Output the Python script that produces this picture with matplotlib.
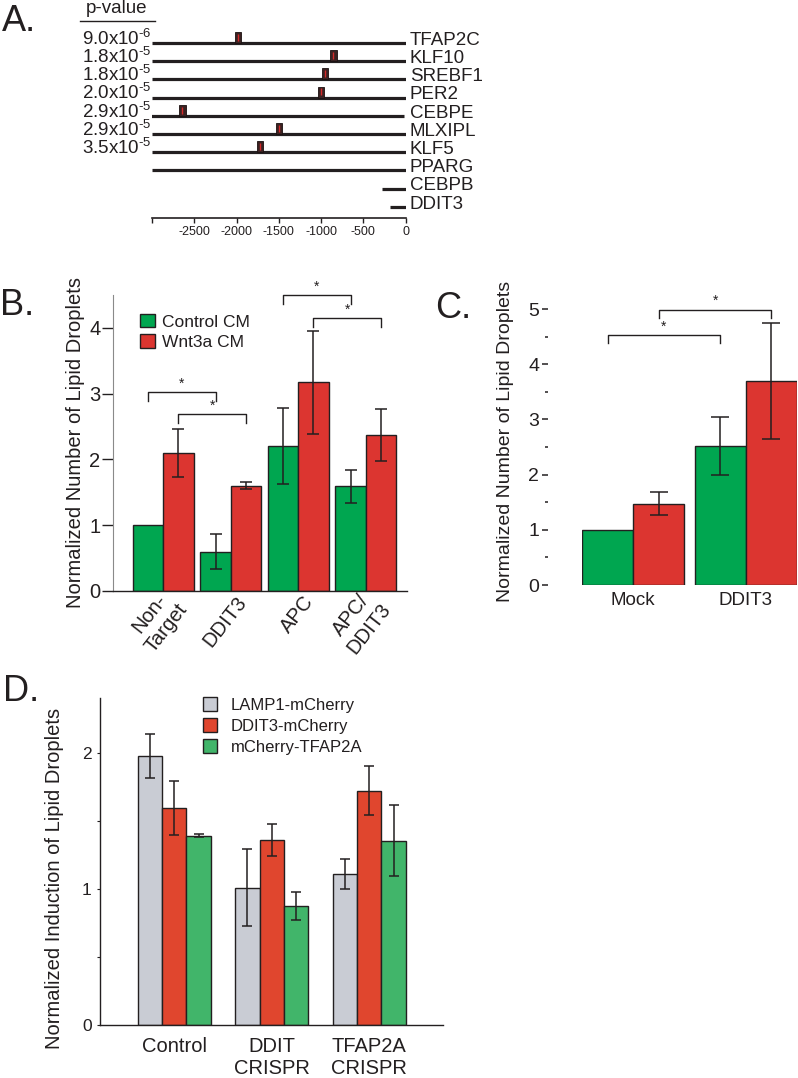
import numpy as np
import matplotlib.pyplot as plt
from matplotlib.patches import Patch
from matplotlib.transforms import ScaledTranslation

plt.rcParams['font.family'] = ['Liberation Sans', 'DejaVu Sans']
plt.rcParams['mathtext.fontset'] = 'custom'
plt.rcParams['mathtext.rm'] = 'Liberation Sans'
plt.rcParams['mathtext.default'] = 'regular'
plt.rcParams['axes.unicode_minus'] = False

INK = '#231f20'
W, H = 798, 1078

# ---- panel A: promoter motif sites ----
GENES = ['TFAP2C', 'KLF10', 'SREBF1', 'PER2', 'CEBPE', 'MLXIPL', 'KLF5', 'PPARG', 'CEBPB', 'DDIT3']
P_VALUES = ['9.0x10$^{\u20106}$', '1.8x10$^{\u20105}$', '1.8x10$^{\u20105}$', '2.0x10$^{\u20105}$',
            '2.9x10$^{\u20105}$', '2.9x10$^{\u20105}$', '3.5x10$^{\u20105}$', '', '', '']
PROMOTER_START = [-3000, -3000, -3000, -3000, -3010, -3000, -3000, -3000, -280, -190]
PROMOTER_END = [0, 0, 0, 0, -20, 0, 0, 0, 0, 0]
SITE_GENE = [0, 1, 2, 3, 4, 5, 6]
SITE_POS = [-1980, -855, -955, -1005, -2640, -1500, -1720]
A_TICKS = [-3000, -2500, -2000, -1500, -1000, -500, 0]
A_TICK_LABELS = ['', '-2500', '-2000', '-1500', '-1000', '-500', '0']

# ---- panel B ----
B_GROUPS = ['Non-\nTarget', 'DDIT3', 'APC', 'APC/\nDDIT3']
B_CONTROL = [1.0, 0.6, 2.2, 1.59]
B_CONTROL_ERR = [0.0, 0.26, 0.58, 0.25]
B_WNT = [2.1, 1.6, 3.17, 2.37]
B_WNT_ERR = [0.36, 0.05, 0.78, 0.39]
B_SERIES = ['Control CM', 'Wnt3a CM']
# (series, group from, group to, height)
B_SIG = [(0, 0, 1, 3.02), (1, 0, 1, 2.69), (0, 2, 3, 4.5), (1, 2, 3, 4.15)]

# ---- panel C ----
C_GROUPS = ['Mock', 'DDIT3']
C_CONTROL = [1.0, 2.52]
C_CONTROL_ERR = [0.0, 0.52]
C_WNT = [1.47, 3.69]
C_WNT_ERR = [0.21, 1.05]
C_SIG = [(0, 0, 1, 4.53), (1, 0, 1, 4.99)]

# ---- panel D ----
D_GROUPS = ['Control', 'DDIT\nCRISPR', 'TFAP2A\nCRISPR']
D_SERIES = ['LAMP1-mCherry', 'DDIT3-mCherry', 'mCherry-TFAP2A']
D_LAMP1 = [1.975, 1.01, 1.11]
D_LAMP1_ERR = [0.16, 0.28, 0.11]
D_DDIT3 = [1.595, 1.36, 1.72]
D_DDIT3_ERR = [0.2, 0.12, 0.18]
D_TFAP2A = [1.39, 0.874, 1.353]
D_TFAP2A_ERR = [0.01, 0.1, 0.26]

GREEN = '#00a650'
RED = '#dc3530'
D_COLORS = ['#c9ccd4', '#e0462e', '#41b56a']


def px_axes(fig, left, top, right, bottom):
    return fig.add_axes([left / W, 1 - bottom / H, (right - left) / W, (bottom - top) / H])


def draw_bars(ax, centers, values, errs, width, color, capsize, elw):
    ax.bar(centers, values, width, color=color, edgecolor=INK, linewidth=1.0, zorder=2)
    errs = np.asarray(errs)
    keep = errs > 0
    ax.errorbar(np.asarray(centers)[keep], np.asarray(values)[keep], yerr=errs[keep],
                fmt='none', ecolor=INK, elinewidth=elw, capsize=capsize, capthick=elw, zorder=3)


def bracket(ax, x0, x1, y, leg):
    ax.plot([x0, x0, x1, x1], [y - leg, y, y, y - leg], color=INK, lw=1.0, clip_on=False)
    ax.annotate('*', ((x0 + x1) / 2, y), xytext=(0, 1), textcoords='offset points',
                ha='center', va='bottom', fontsize=10, color=INK, annotation_clip=False)


fig = plt.figure(figsize=(W / 100, H / 100), dpi=100)

# ================= A =================
axA = px_axes(fig, 152, 15.7, 405.7, 218)
rows = -np.arange(len(GENES))
axA.hlines(rows, PROMOTER_START, PROMOTER_END, color=INK, lw=2.3)
site_rows = rows[SITE_GENE]
axA.bar(SITE_POS, 0.6, width=75, bottom=site_rows, color='#3a2222', edgecolor='#1a1010',
        linewidth=0.6, zorder=3)
axA.vlines(SITE_POS, site_rows + 0.12, site_rows + 0.5, color='#d42a2a', lw=1.0, zorder=4)
for r, g, p in zip(rows, GENES, P_VALUES):
    axA.text(50, r - 0.1, g, ha='left', va='baseline', fontsize=13.5, color=INK, clip_on=False)
    if p:
        axA.text(-3010, r - 0.1, p, ha='right', va='baseline', fontsize=13.5, color=INK, clip_on=False)
axA.text(-3414, 1.92, 'p-value', ha='center', va='center', fontsize=13.5, color=INK, clip_on=False)
axA.plot([-3852, -2964], [1.23, 1.23], color=INK, lw=1.0, clip_on=False)
axA.set_xlim(-3000, 0)
axA.set_ylim(-9.62, 1.5)
axA.set_xticks(A_TICKS, A_TICK_LABELS, fontsize=9, color=INK)
axA.set_yticks([])
axA.tick_params(axis='x', direction='out', length=3.6, width=1.0, pad=2.5, color=INK)
for s in ['left', 'right', 'top']:
    axA.spines[s].set_visible(False)
axA.spines['bottom'].set_linewidth(1.2)
axA.spines['bottom'].set_color(INK)

# ================= B =================
axB = px_axes(fig, 113, 295, 406.7, 591)
xb = np.arange(len(B_GROUPS))
bw = 0.45
draw_bars(axB, xb - bw / 2, B_CONTROL, B_CONTROL_ERR, bw, GREEN, 4.3, 1.1)
draw_bars(axB, xb + bw / 2, B_WNT, B_WNT_ERR, bw, RED, 4.3, 1.1)
for s, g0, g1, h in B_SIG:
    off = -bw / 2 if s == 0 else bw / 2
    bracket(axB, g0 + off, g1 + off, h, 0.13)
axB.set_xlim(-0.745, 3.606)
axB.set_ylim(0, 4.5)
axB.set_yticks([0, 1, 2, 3, 4])
axB.tick_params(axis='y', length=8, width=1.0, pad=1, labelsize=14.5, color=INK, labelcolor=INK)
axB.set_xticks(xb, B_GROUPS)
axB.tick_params(axis='x', length=0, pad=4)
shift = ScaledTranslation(0.12, -0.02, fig.dpi_scale_trans)
for lab in axB.get_xticklabels():
    lab.set(rotation=52, ha='right', va='center', rotation_mode='anchor',
            multialignment='center', fontsize=14.5, color=INK)
    lab.set_transform(lab.get_transform() + shift)
for s in ['right', 'top']:
    axB.spines[s].set_visible(False)
axB.spines['left'].set_color('#8a8a8a')
axB.spines['left'].set_linewidth(0.8)
axB.spines['bottom'].set_color(INK)
axB.spines['bottom'].set_linewidth(1.0)
axB.set_ylabel('Normalized Number of Lipid Droplets', fontsize=14.5, color=INK)
axB.yaxis.set_label_coords((85 - 113) / 293.7, 0.5)
axB.legend([Patch(facecolor=GREEN, edgecolor=INK), Patch(facecolor=RED, edgecolor=INK)],
           B_SERIES, loc='upper left', bbox_to_anchor=(0.092, 0.937), frameon=False,
           fontsize=12.5, handlelength=0.84, handleheight=0.84, handletextpad=0.4,
           labelspacing=0.25, borderpad=0, borderaxespad=0, labelcolor=INK)

# ================= C =================
axC = px_axes(fig, 582, 298, 797.3, 585)
xc = np.arange(len(C_GROUPS))
cw = 0.455
draw_bars(axC, xc - cw / 2, C_CONTROL, C_CONTROL_ERR, cw, GREEN, 6.2, 1.1)
draw_bars(axC, xc + cw / 2, C_WNT, C_WNT_ERR, cw, RED, 6.2, 1.1)
for s, g0, g1, h in C_SIG:
    off = -cw / 2 if s == 0 else cw / 2
    bracket(axC, g0 + off, g1 + off, h, 0.15)
axC.set_xlim(-0.456, 1.459)
axC.set_ylim(0, 5.2)
axC.set_yticks([0, 1, 2, 3, 4, 5])
axC.set_yticks([0.5, 1.5, 2.5, 3.5, 4.5], minor=True)
axC.tick_params(axis='y', which='major', length=4.3, width=1.1, pad=2, labelsize=14,
                color=INK, labelcolor=INK)
axC.tick_params(axis='y', which='minor', length=2.2, width=1.1, color=INK)
axC.set_xticks(xc, C_GROUPS, fontsize=13.5, color=INK)
axC.tick_params(axis='x', length=0, pad=5)
for s in ['right', 'top', 'bottom', 'left']:
    axC.spines[s].set_visible(False)
axC.spines['left'].set_position(('outward', 24.5))
axC.set_ylabel('Normalized Number of Lipid Droplets', fontsize=14, color=INK)
axC.yaxis.set_label_coords((514 - 582) / 215.3, 0.5)

# ================= D =================
axD = px_axes(fig, 100, 698.3, 443, 1025)
xd = np.arange(len(D_GROUPS))
dw = 0.25
d_vals = [D_LAMP1, D_DDIT3, D_TFAP2A]
d_errs = [D_LAMP1_ERR, D_DDIT3_ERR, D_TFAP2A_ERR]
for k in range(3):
    draw_bars(axD, xd + (k - 1) * dw, d_vals[k], d_errs[k], dw, D_COLORS[k], 3.6, 1.1)
axD.set_xlim(-0.761, 2.757)
axD.set_ylim(0, 2.4)
axD.set_yticks([0, 1, 2])
axD.set_yticks([0.5, 1.5], minor=True)
axD.tick_params(axis='y', which='both', length=2.5, width=0.8, pad=3.5, labelsize=12.5,
                color=INK, labelcolor=INK)
axD.set_xticks(xd, D_GROUPS, fontsize=14.5, color=INK)
axD.tick_params(axis='x', length=0, pad=9)
for s in ['right', 'top']:
    axD.spines[s].set_visible(False)
for s in ['left', 'bottom']:
    axD.spines[s].set_color(INK)
    axD.spines[s].set_linewidth(1.0)
axD.set_ylabel('Normalized Induction of Lipid Droplets', fontsize=14.5, color=INK)
axD.yaxis.set_label_coords((64 - 100) / 343, 0.45)
axD.legend([Patch(facecolor=c, edgecolor=INK) for c in D_COLORS], D_SERIES,
           loc='upper left', bbox_to_anchor=(0.300, 1.004), frameon=False,
           fontsize=12, handlelength=0.875, handleheight=0.875, handletextpad=0.8,
           labelspacing=0.33, borderpad=0, borderaxespad=0, labelcolor=INK)

# panel letters
for letter, x, y in [('A.', 2, 31), ('B.', 0, 315), ('C.', 435, 318), ('D.', 3, 701)]:
    fig.text(x / W, 1 - y / H, letter, fontsize=26, color=INK, ha='left', va='baseline')

fig.savefig('out.png', dpi=100)
